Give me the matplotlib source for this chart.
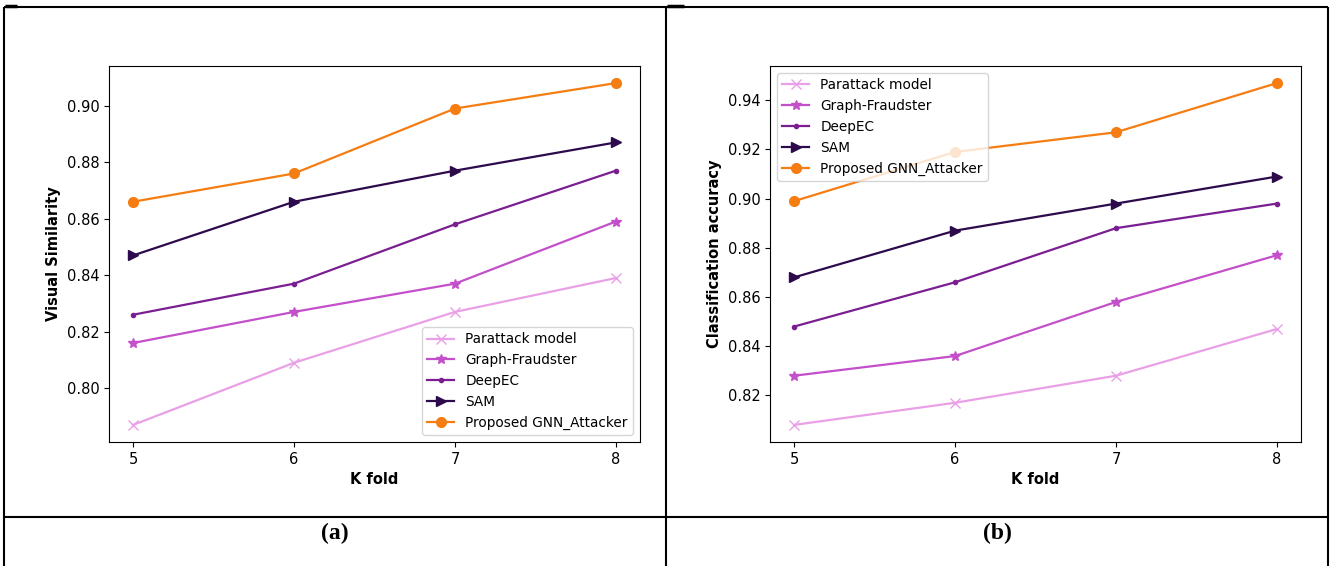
import matplotlib
matplotlib.use("Agg")
from matplotlib import pyplot as plt
from matplotlib.lines import Line2D

k_folds = [5, 6, 7, 8]
methods = ["Parattack model", "Graph-Fraudster", "DeepEC", "SAM", "Proposed GNN_Attacker"]

# panel (a): visual similarity
vis_parattack = [0.787, 0.809, 0.827, 0.839]
vis_fraudster = [0.816, 0.827, 0.837, 0.859]
vis_deepec = [0.826, 0.837, 0.858, 0.877]
vis_sam = [0.847, 0.866, 0.877, 0.887]
vis_proposed = [0.866, 0.876, 0.899, 0.908]

# panel (b): classification accuracy
acc_parattack = [0.808, 0.817, 0.828, 0.847]
acc_fraudster = [0.828, 0.836, 0.858, 0.877]
acc_deepec = [0.848, 0.866, 0.888, 0.898]
acc_sam = [0.868, 0.887, 0.898, 0.909]
acc_proposed = [0.899, 0.919, 0.927, 0.947]

colors = ["#eaa0e6", "#c44fca", "#7a1e92", "#2c0a4c", "#f57d12"]
markers = ["x", "*", ".", ">", "o"]
msizes = [7, 7, 6, 7.5, 7]

fig = plt.figure(figsize=(13.3, 5.66), dpi=100)
W, H = 1330, 566


def fx(px):
    return px / W


def fy(py):
    return 1 - py / H


def panel(rect, series, ylabel, legend_loc):
    ax = fig.add_axes(rect)
    for name, vals, c, m, ms in zip(methods, series, colors, markers, msizes):
        ax.plot(k_folds, vals, color=c, marker=m, markersize=ms, linewidth=1.6, label=name)
    ax.set_xticks(k_folds)
    ax.tick_params(labelsize=10.5)
    ax.set_xlabel("K fold", fontweight="bold", fontsize=10.5)
    ax.set_ylabel(ylabel, fontweight="bold", fontsize=10.5)
    ax.legend(loc=legend_loc, fontsize=9.8)
    return ax


panel([fx(109), fy(442), fx(531), 376 / H],
      [vis_parattack, vis_fraudster, vis_deepec, vis_sam, vis_proposed],
      "Visual Similarity", "lower right")
panel([fx(770), fy(442), fx(531), 376 / H],
      [acc_parattack, acc_fraudster, acc_deepec, acc_sam, acc_proposed],
      "Classification accuracy", "upper left")

# table borders around the two panels
lw = 1.5
def rule(x0, y0, x1, y1, w=lw):
    fig.add_artist(Line2D([fx(x0), fx(x1)], [fy(y0), fy(y1)], color="black",
                          linewidth=w, transform=fig.transFigure, solid_capstyle="butt"))

rule(4, 7, 1328, 7)
rule(4, 7, 4, 566)
rule(666, 7, 666, 566)
rule(1328, 7, 1328, 566)
rule(4, 516.5, 1328, 516.5)
rule(5, 6, 17, 6, w=2.5)
rule(667, 6, 684, 6, w=2.5)

fig.text(fx(335), fy(533), "(a)", ha="center", va="center", fontsize=17,
         fontweight="bold", family="Liberation Serif")
fig.text(fx(997), fy(533), "(b)", ha="center", va="center", fontsize=17,
         fontweight="bold", family="Liberation Serif")

fig.savefig("out.png", dpi=100)
